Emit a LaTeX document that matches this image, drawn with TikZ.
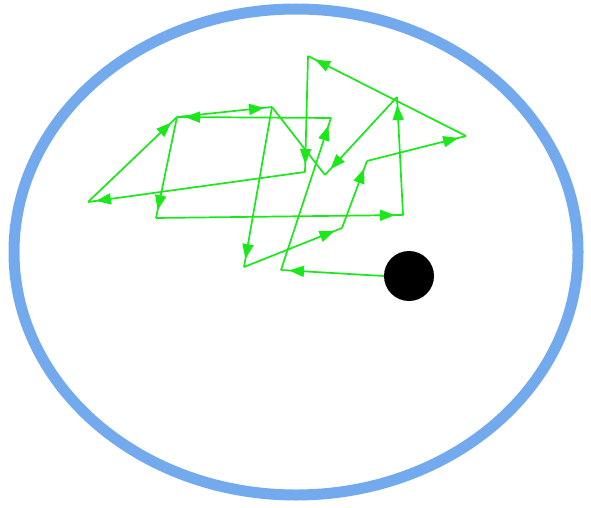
\documentclass[tikz,border=0pt]{standalone}
\usetikzlibrary{arrows.meta,decorations.markings}
\definecolor{ringblue}{RGB}{115,170,238}
\definecolor{walkgreen}{RGB}{25,232,25}
\tikzset{
  plainwalk/.style={draw=walkgreen, line width=1.7pt},
  walk/.style={plainwalk,
    postaction={decorate, decoration={markings,
      mark=at position -8pt with {\arrow[walkgreen]{Triangle[length=15pt,width=11pt]}}}}},
  ring/.style={draw=ringblue, line width=11pt},
  particle/.style={circle, fill=black, inner sep=0pt, minimum size=50pt}
}
\begin{document}
\begin{tikzpicture}[x=1pt,y=-1pt]
\useasboundingbox (0,0) rectangle (591,508);
\draw[ring] (296,252) ellipse [x radius=282, y radius=243];
\node[particle] (dot) at (409,276) {};
\coordinate (B) at (281,270);
\coordinate (C) at (331,118);
\coordinate (D) at (177,117);
\coordinate (F) at (156,218);
\coordinate (G) at (403,215);
\coordinate (H) at (397,97);
\coordinate (K) at (325,175);
\coordinate (M) at (272,107);
\coordinate (L) at (244,267);
\coordinate (Q) at (342,228);
\coordinate (P) at (367,161);
\coordinate (I) at (466,136);
\coordinate (J) at (308,56);
\coordinate (N) at (305,172);
\coordinate (E) at (88,202);
\draw[walk] (dot.west) -- (B);
\draw[walk] (B) -- (C);
\draw[walk] (C) -- (D);
\draw[walk] (D) -- (F);
\draw[walk] (F) -- (G);
\draw[walk] (G) -- (H);
\draw[walk] (H) -- (K);
\draw[plainwalk] (K) -- (M);
\draw[walk] (M) -- (L);
\draw[walk] (L) -- (Q);
\draw[walk] (Q) -- (P);
\draw[walk] (P) -- (I);
\draw[walk] (I) -- (J);
\draw[walk] (J) -- (N);
\draw[walk] (N) -- (E);
\draw[walk] (E) -- (D);
\draw[walk] (D) -- (M);
\end{tikzpicture}
\end{document}
